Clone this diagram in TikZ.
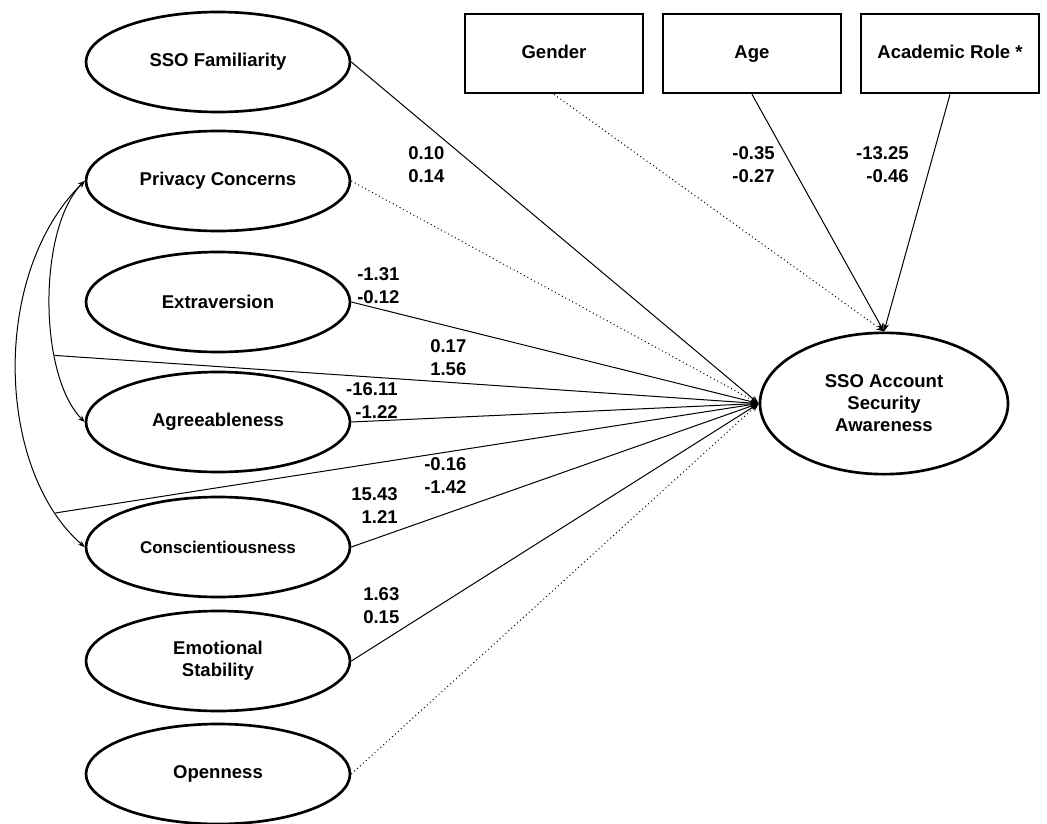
\documentclass[tikz,border=0pt]{standalone}
\usepackage{fontspec}
\setmainfont{Liberation Sans}
\usetikzlibrary{arrows.meta,shapes.geometric}
\begin{document}
\begin{tikzpicture}[x=0.75pt,y=-0.75pt,
  lat/.style={ellipse,draw,line width=2pt,minimum width=198pt,minimum height=75pt,inner sep=0pt,align=center,font=\bfseries\fontsize{13.9}{16.5}\selectfont},
  obs/.style={rectangle,draw,line width=2pt,minimum width=133.5pt,minimum height=59.25pt,inner sep=0pt,text height=10pt,text depth=3pt,font=\bfseries\fontsize{13.9}{16.5}\selectfont},
  reg/.style={line width=0.75pt,-{Stealth[length=6pt,width=4.5pt]}},
  nsreg/.style={reg,dash pattern=on 0.75pt off 2.2pt},
  cov/.style={line width=0.75pt,{Stealth[length=5pt,width=4pt]}-{Stealth[length=5pt,width=4pt]}},
  lbl/.style={inner sep=0pt,font=\bfseries\fontsize{13.9}{17.25}\selectfont}]
\useasboundingbox (0,0) rectangle (1047,824);
% latent variables
\node[lat] (F) at (218,62) {SSO Familiarity};
\node[lat] (P) at (218,181) {Privacy Concerns};
\node[lat] (E) at (218,302) {Extraversion};
\node[lat] (A) at (218,422) {Agreeableness};
\node[lat,font=\bfseries\fontsize{12.75}{16}\selectfont] (C) at (218,547) {Conscientiousness};
\node[lat] (S) at (218,661) {Emotional\\Stability};
\node[lat] (O) at (218,774) {Openness};
% observed
\node[obs] (G) at (554,53.5) {Gender};
\node[obs] (Ag) at (752,53.5) {Age};
\node[obs] (R) at (950,53.5) {Academic Role *};
% target
\node[lat,minimum width=186pt,minimum height=106pt] (T) at (884,403.5) {SSO Account\\Security\\Awareness};
% covariances
\draw[cov] (P.west) .. controls (38,228) and (38,375) .. (A.west) coordinate[pos=0.69] (i1);
\draw[cov] (P.west) .. controls (-10,274) and (-4,470) .. (C.west) coordinate[pos=0.875] (i2);
% paths
\draw[reg] (F.east) -- (T.west);
\draw[nsreg] (P.east) -- (T.west);
\draw[reg] (E.east) -- (T.west);
\draw[reg] (A.east) -- (T.west);
\draw[reg] (C.east) -- (T.west);
\draw[reg] (S.east) -- (T.west);
\draw[nsreg] (O.east) -- (T.west);
\draw[reg] (i1) -- (T.west);
\draw[reg] (i2) -- (T.west);
\draw[nsreg] (G.south) -- (T.north);
\draw[reg] (Ag.south) -- (T.north);
\draw[reg] (R.south) -- (T.north);
% labels
\node[lbl,align=left,anchor=west] (l1) at (408,165) {0.10\\0.14};
\node[lbl,align=left,anchor=west] (l2) at (357,285.5) {-1.31\\-0.12};
\node[lbl,align=left,anchor=west] (l3) at (430,358) {0.17\\1.56};
\node[lbl,align=right,anchor=east] (l4) at (398,400.5) {-16.11\\-1.22};
\node[lbl,align=left,anchor=west] (l5) at (424,476) {-0.16\\-1.42};
\node[lbl,align=right,anchor=east] (l6) at (398,506) {15.43\\1.21};
\node[lbl,align=left,anchor=west] (l7) at (363,606) {1.63\\0.15};
\node[lbl,align=right,anchor=east] (l8) at (775,165) {-0.35\\-0.27};
\node[lbl,align=right,anchor=east] (l9) at (909,165) {-13.25\\-0.46};
\end{tikzpicture}
\end{document}
